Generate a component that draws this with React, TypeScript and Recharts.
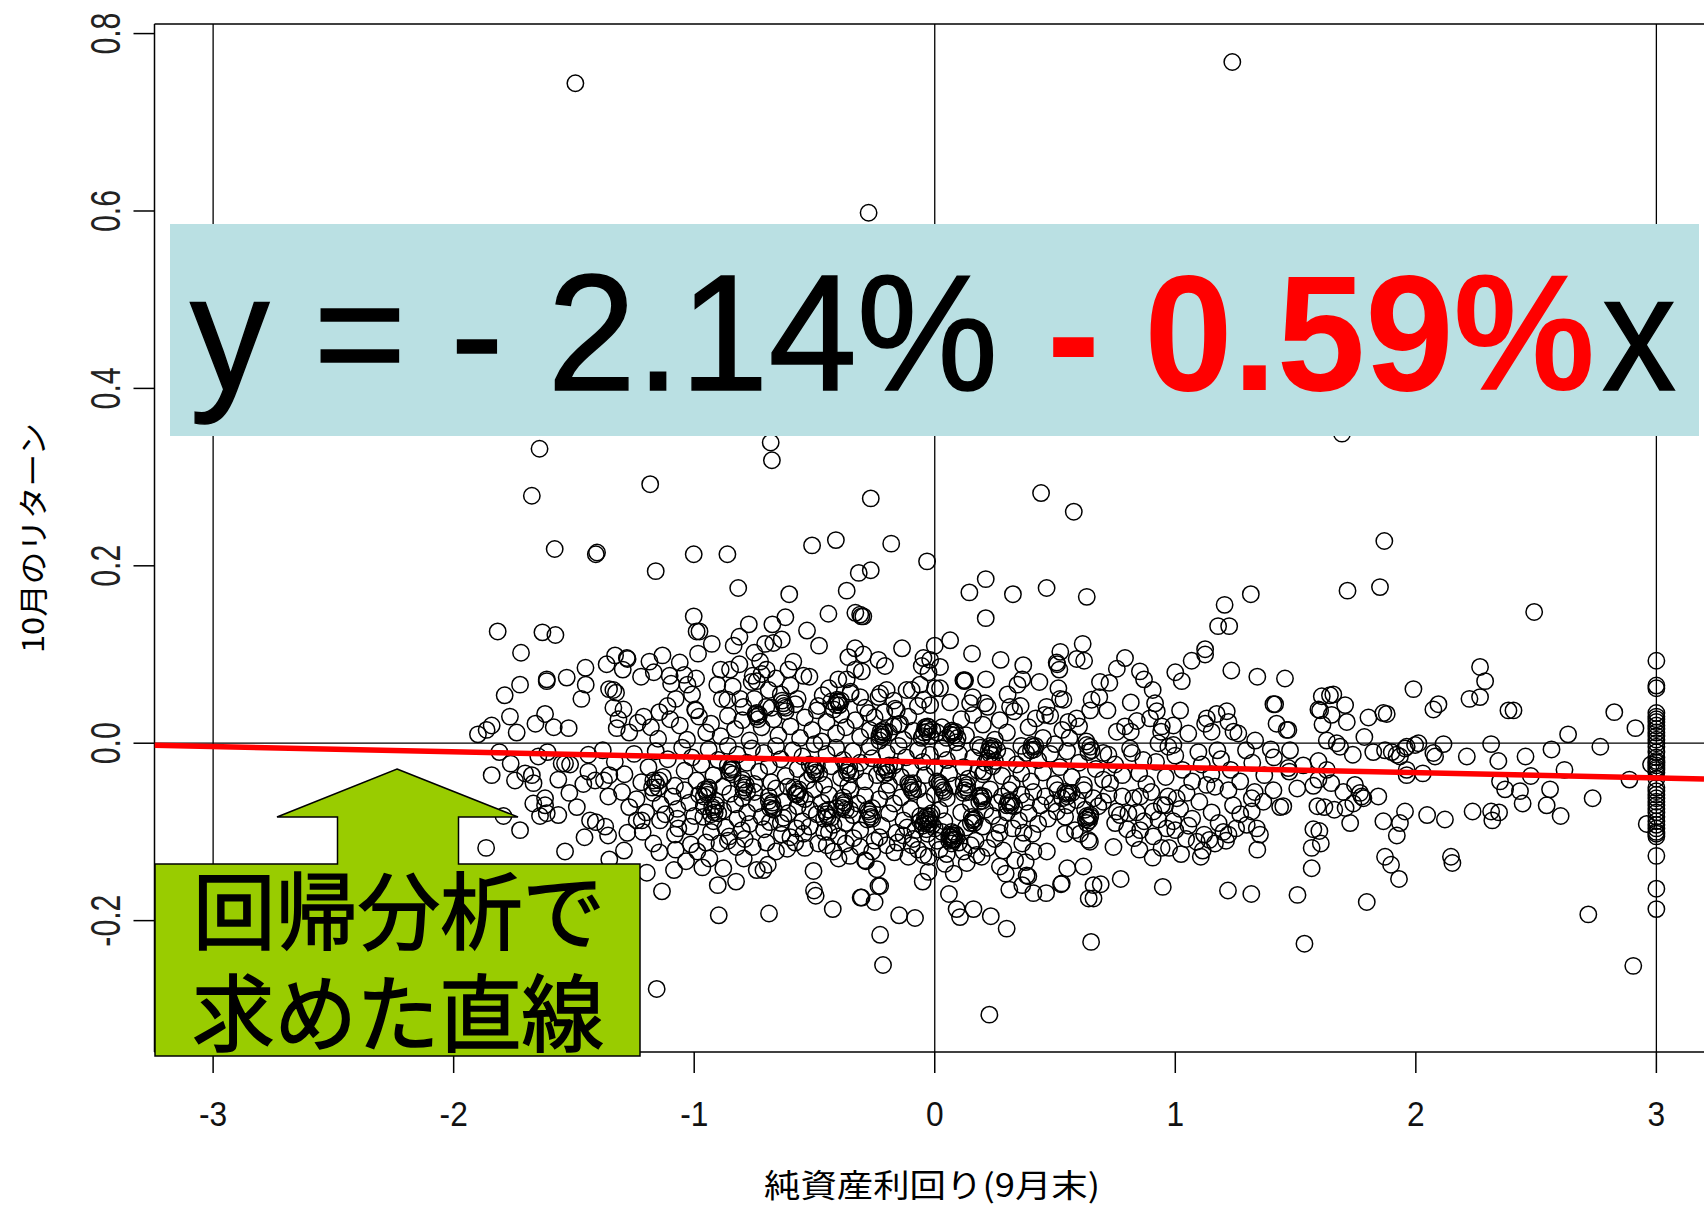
import { ReferenceLine, Scatter, ScatterChart, XAxis, YAxis } from "recharts";

type Pair = [number, number];

const xDomain = [-3.2437, 3.198];
const yDomain = [-0.3481, 0.8108];
const xTicks = [-3, -2, -1, 0, 1, 2, 3];
const yTicks = [-0.2, 0, 0.2, 0.4, 0.6, 0.8];
const guideX = [-3, 0, 3];

// regression line: y = -2.14% - 0.59% x, read at both plot edges
const fitLine: Pair[] = [[-3.2437, -0.0023], [3.198, -0.0403]];

const outliers: Pair[] = [
  [-1.494,.744],[1.237,.768],[-.275,.598],[1.693,.349],[-1.643,.332],[-.682,.339],[-.677,.319],[-1.675,.279],[-1.183,.292],[-.266,.276],[.442,.282],[.578,.261],
  [-1.58,.219],[-1.409,.213],[-1.404,.215],[-1.16,.194],[-1.002,.213],[-.862,.213],[-.817,.175],[-.51,.223],[-.411,.229],[-.181,.225],[-.032,.205],[-.316,.192],[-.266,.195],
  [-.366,.172],[-.605,.168],[.144,.17],[.212,.185],[.325,.168],[.212,.141],[.465,.175],[.632,.165],[1.205,.156],[1.314,.168],[1.716,.172],[1.851,.176],[1.869,.228],[2.492,.148],
  [1.178,.132],[1.224,.132],[-.227,-.216],[-.215,-.25],[.227,-.306],[.65,-.224],[-1.156,-.277],[1.537,-.226],[2.904,-.251],[2.717,-.193],[1.796,-.179],
];

const upperLeft: Pair[] = [
  [-1.817,.126],[-1.631,.125],[-1.577,.122],[-1.72,.102],[-1.613,.072],[-1.613,.07],[-1.53,.074],[-1.452,.085],[-1.451,.066],[-1.469,.05],[-1.724,.066],[-1.788,.054],
  [-1.766,.03],[-1.842,.02],[-1.66,.022],[-1.62,.033],[-1.584,.018],[-1.522,.017],[-1.738,.012],[-1.863,.015],[-1.899,.01],[-1.329,.099],[-1.364,.089],[-1.28,.096],[-1.277,.095],
  [-1.297,.083],[-1.186,.092],[-1.132,.099],[-1.168,.08],[-1.221,.075],[-1.06,.091],[-1.102,.076],[-1.096,.067],[-1.041,.077],[-.992,.073],[-1.028,.066],[-1.009,.055],[-1.077,.05],
  [-.994,.037],[-.996,.038],[-1.354,.061],[-1.336,.06],[-1.325,.057],[-1.336,.04],[-1.294,.038],[-1.315,.027],[-1.322,.017],[-1.235,.023],[-1.145,.035],[-1.111,.042],[-1.002,.143],
  [-.99,.126],[-.978,.126],[-.927,.112],[-.984,.101],[-.442,.146],[-.531,.127],[-.621,.142],[-.675,.134],[-.773,.134],[-.812,.12],[-.836,.11],[-.636,.117],[-.705,.112],[-.671,.113],
  [-.481,.11],[-.33,.147],[-.305,.143],[-.331,.107],[-.359,.097],[-.75,.102],[-.89,.083],[-.851,.083],[-.812,.089],[-.904,.066],[-.84,.064],[-.885,.05],[-.862,.049],[-.795,.041],
  [-.809,.05],[-.761,.069],[-.726,.092],[-.699,.083],[-.588,.092],[-.608,.083],[-.546,.076],[-.521,.075],[-.401,.072],[-.366,.072],[-.331,.083],[-.303,.081],[-.297,.1],[-.466,.054],
  [-.484,.042],[-.401,.047],[-.757,.076],[-.74,.07],[-.72,.078],[-.69,.06],[-.66,.073],[-.64,.055],[-.6,.065],[-.57,.05],[-.44,.062],[-.42,.038],[-.35,.058],[-.75,.05],[-.68,.04],
];

const upperRight: Pair[] = [
  [-.136,.107],[.064,.116],[0,.11],[.155,.101],[.274,.094],[.213,.072],[.119,.071],[.126,.071],[.123,.07],[.368,.088],[.364,.072],[.435,.069],[.344,.066],[.303,.055],[.357,.042],[.313,.041],
  [.522,.103],[.615,.112],[.59,.095],[.621,.093],[.507,.091],[.518,.083],[.509,.089],[.791,.096],[.757,.084],[.687,.069],[.726,.068],[.853,.081],[.87,.072],[.906,.06],[1,.08],[1.027,.07],
  [1.068,.093],[1.124,.106],[1.124,.1],[1.233,.082],[1.341,.075],[1.415,.044],[1.408,.044],[1.421,.022],[.514,.062],[.521,.05],[.535,.049],[.652,.049],[.684,.052],[.815,.046],[.916,.045],
  [.923,.036],[1.02,.037],[.646,.037],[.718,.037],[.465,.041],[.458,.032],[.59,.028],[.555,.024],[.84,.025],[.791,.019],[.815,.013],[.757,.013],[.895,.028],[.944,.019],[.941,.013],[.992,.02],
  [1.054,.011],[1.131,.028],[1.172,.033],[1.214,.036],[1.221,.024],[1.124,.022],[1.151,.013],[1.262,.011],[1.242,.013],[1.332,.003],[-.234,.094],[-.207,.087],[-.297,.143],[-.31,.145],
  [-.047,.096],[-.019,.094],[-.054,.087],[-.026,.08],[.022,.086],[-.117,.06],[-.096,.06],[-.061,.066],[.001,.062],[.022,.062],[-.019,.043],[-.047,.049],[.064,.046],[.147,.045],[.158,.052],
  [.209,.045],[-.158,.037],[-.165,.039],[-.2,.06],[-.234,.052],[-.227,.056],[-.31,.052],[-.276,.034],[-.214,.015],[-.172,.019],[-.144,.022],
];

const lowerLeft: Pair[] = [
  [-1.842,-.036],[-1.81,-.01],[-1.763,-.023],[-1.745,-.042],[-1.703,-.034],[-1.675,-.036],[-1.668,-.045],[-1.648,-.015],[-1.61,-.01],[-1.565,-.041],[-1.551,-.023],[-1.537,-.023],[-1.516,-.024],
  [-1.519,-.056],[-1.44,-.013],[-1.461,-.046],[-1.44,-.032],[-1.412,-.042],[-1.375,-.042],[-1.353,-.036],[-1.357,-.06],[-1.669,-.068],[-1.62,-.062],[-1.62,-.07],[-1.641,-.082],[-1.613,-.079],
  [-1.565,-.081],[-1.488,-.072],[-1.793,-.082],[-1.724,-.098],[-1.865,-.118],[-1.537,-.122],[-1.456,-.106],[-1.433,-.087],[-1.409,-.089],[-1.37,-.094],[-1.358,-.104],[-1.278,-.101],[-1.292,-.121],
  [-1.353,-.131],[-1.214,-.1],[-1.239,-.087],[-1.218,-.087],[-1.17,-.113],[-1.145,-.123],[-1.077,-.12],[-1.084,-.143],[-1.197,-.146],[-1.134,-.167],[-1.034,-.133],[-.966,-.14],[-.937,-.13],
  [-.987,-.122],[-1.014,-.114],[-.951,-.112],[-.895,-.113],[-.879,-.141],[-.902,-.16],[-.826,-.156],[-.898,-.194],[-.689,-.192],[-.794,-.13],[-.757,-.117],[-.823,-.117],[-.854,-.105],[-.74,-.143],
  [-.712,-.143],[-.694,-.137],[-.613,-.119],[-.636,-.103],[-.504,-.144],[-.502,-.166],[-.495,-.172],[-.424,-.187],[-.308,-.174],[-.484,-.113],[-.449,-.115],[-.421,-.122],[-.352,-.127],[-.29,-.132],
  [-.338,-.107],[-.574,-.096],[-.546,-.102],[-1.142,-.087],[-1.07,-.085],[-1.066,-.096],[-1.017,-.094],[-.962,-.083],[-.9,-.079],[-.802,-.098],[-.685,-.089],[-.629,-.084],[-.518,-.075],[-.421,-.092],[-.352,-.075],
];

const lowerMiddle: Pair[] = [
  [-.148,-.194],[-.082,-.197],[-.25,-.179],[-.234,-.161],[-.227,-.161],[-.304,-.174],[-.241,-.142],[-.286,-.133],[-.05,-.156],[-.026,-.145],[.059,-.17],[.091,-.187],[.105,-.196],[.161,-.187],[.233,-.195],
  [.299,-.209],[.079,-.147],[.043,-.136],[.133,-.135],[.195,-.128],[.174,-.126],[-.026,-.128],[-.047,-.126],[-.168,-.123],[-.154,-.112],[-.096,-.115],[.31,-.165],[.364,-.16],[.389,-.15],[.382,-.149],
  [.41,-.169],[.463,-.169],[.528,-.158],[.525,-.159],[.551,-.141],[.618,-.139],[.64,-.175],[.66,-.175],[.66,-.16],[.69,-.159],[.773,-.153],[.948,-.162],[1.219,-.166],[1.316,-.17],[1.341,-.12],[.743,-.117],
  [.271,-.139],[.295,-.147],[.334,-.132],[.378,-.134],[.285,-.121],[.466,-.122],[.41,-.122],[.364,-.113],[.406,-.102],[.369,-.101],[.269,-.101],[.324,-.096],[.542,-.102],[.47,-.085],[.507,-.077],[.542,-.083],
  [.645,-.111],[.639,-.109],[.604,-.102],[.583,-.098],[.632,-.09],[.646,-.083],[.625,-.075],[.851,-.12],[.829,-.107],[.906,-.129],[.974,-.118],[.943,-.118],[1.024,-.125],[1.106,-.128],[1.114,-.121],[1.045,-.108],
  [1.089,-.111],[1.12,-.103],[1.165,-.113],[1.142,-.109],[1.211,-.11],[1.2,-.1],[1.221,-.103],[1.253,-.096],[1.297,-.092],[1.339,-.096],[1.352,-.103],[1.151,-.078],[1.055,-.093],[.992,-.088],[.964,-.096],
  [.909,-.105],[.854,-.098],[.805,-.079],[.854,-.06],[.826,-.062],[.757,-.077],[.77,-.081],[.722,-.058],[.729,-.045],[.909,-.077],[.944,-.07],[.958,-.07],[1.006,-.062],[1.047,-.056],[1.221,-.053],[1.13,-.047],
  [1.165,-.049],[1.318,-.062],[1.318,-.077],[1.366,-.066],[1.408,-.053],[1.436,-.072],[1.294,-.008],[1.397,-.007],[1.175,-.008],[1.096,-.01],[.971,-.004],[.992,-.002],[.93,0],[.867,-.019],[.812,-.006],[.722,-.013],
  [.701,-.011],[.646,-.004],[.639,-.01],[.632,-.002],[.652,-.008],
];

const rightSide: Pair[] = [
  [2.825,.035],[2.913,.017],[2.633,.01],[2.767,-.004],[2.564,-.007],[2.456,-.015],[2.343,-.02],[2.313,-.001],[2.212,-.015],[2.115,-.001],[2.011,0],[1.997,-.002],[1.99,.061],[2.094,.044],[2.073,.038],[2.267,.086],
  [2.288,.07],[2.267,.052],[2.223,.05],[2.385,.037],[2.406,.037],[1.456,.073],[1.609,.053],[1.643,.054],[1.657,.055],[1.595,.038],[1.602,.037],[1.65,.032],[1.706,.043],[1.713,.024],[1.612,.021],[1.803,.029],
  [1.865,.034],[1.879,.033],[1.786,.007],[1.63,.003],[1.671,0],[1.685,-.004],[1.738,-.013],[1.823,-.01],[1.872,-.008],[1.9,-.01],[1.92,-.013],[1.934,-.015],[1.955,-.006],[1.962,-.004],[2.073,-.011],[2.08,-.015],
  [1.962,-.03],[1.962,-.036],[2.029,-.034],[1.463,.015],[1.47,.015],[1.477,-.008],[1.532,-.025],[1.595,-.02],[1.63,-.03],[1.47,-.028],[1.474,-.032],[1.507,-.051],[1.574,-.048],[1.595,-.041],[1.648,-.045],[1.699,-.055],
  [1.747,-.047],[1.768,-.056],[1.844,-.06],[2.35,-.043],[2.371,-.052],[2.478,-.037],[2.433,-.054],[2.618,-.03],[2.558,-.052],[2.888,-.041],[2.735,-.062],[2.978,-.024],[2.544,-.07],[2.602,-.082],[2.444,-.068],
  [2.346,-.078],[2.313,-.077],[2.318,-.087],[2.236,-.077],[2.121,-.086],[2.047,-.081],[1.955,-.077],[1.934,-.09],[1.865,-.088],[1.921,-.104],[1.872,-.128],[1.897,-.137],[1.93,-.153],[2.146,-.128],[2.152,-.135],
  [1.508,-.171],[1.567,-.141],[1.567,-.118],[1.605,-.113],[1.574,-.097],[1.599,-.099],[1.727,-.09],[1.74,-.068],[1.775,-.06],[1.782,-.062],[1.591,-.071],[1.62,-.072],[1.661,-.075],[1.708,-.073],[1.449,-.071],[2.96,-.091],
];

const capValues = [
  .093,.065,.062,.034,.03,.027,.024,.02,.016,.012,.008,.004,0,-.004,-.01,-.016,-.02,-.022,-.025,-.028,-.03,-.033,-.04,-.05,-.054,-.058,-.062,-.066,-.07,-.074,-.078,-.083,-.088,-.092,-.096,-.1,-.102,-.105,-.127,-.164,-.187,
];

const corePoints: Pair[] = [
  [-1.27,.012],[-1.21,.03],[-1.18,.018],[-1.15,.005],[-1.1,.027],[-1.06,.02],[-1.03,.004],[-.98,.03],[-.95,.012],[-.93,.022],[-.89,.008],[-.86,.031],[-.83,.016],[-.8,.026],[-.77,.003],[-.74,.034],[-.72,.018],[-.7,.041],
  [-.67,.027],[-.65,.009],[-.62,.036],[-.6,.019],[-.58,.044],[-.56,.006],[-.54,.029],[-.51,.015],[-.49,.037],[-.47,.002],[-.45,.024],[-.43,.047],[-.41,.011],[-.39,.032],[-.37,.018],[-.35,.056],[-.33,.026],[-.31,.007],
  [-.29,.04],[-.27,.015],[-.25,.029],[-.23,.003],[-.21,.035],[-.19,.012],[-.17,.048],[-.15,.021],[-.13,.004],[-.11,.03],[-.09,.014],[-.07,.042],[-.05,.008],[-.03,.019],[-.01,.015],[.01,.012],[.03,.018],[.05,.006],[.07,.014],
  [.09,.001],[.11,.027],[.13,.009],[.16,.032],[.18,-.002],[.2,.021],[.22,.041],[.25,.004],[.27,.026],[.3,.012],[.33,.036],[.36,-.003],[.39,.018],[.42,.028],[.45,.006],[.48,.031],[.5,-.001],[.53,.015],[.56,.006],[.6,.019],[.63,.002],
  [-1.38,-.008],[-1.33,-.021],[-1.29,-.035],[-1.25,-.012],[-1.22,-.044],[-1.19,-.027],[-1.16,-.009],[-1.13,-.038],[-1.11,-.018],[-1.08,-.048],[-1.05,-.005],[-1.04,-.031],[-1.01,-.016],[-.99,-.042],[-.97,-.024],[-.94,-.007],
  [-.92,-.036],[-.9,-.019],[-.88,-.049],[-.86,-.003],[-.84,-.029],[-.82,-.013],[-.8,-.041],[-.78,-.022],[-.76,-.006],[-.75,-.046],[-.73,-.032],[-.71,-.011],[-.69,-.026],[-.68,-.044],[-.66,-.003],[-.64,-.018],[-.62,-.037],[-.61,-.049],
  [-.59,-.008],[-.57,-.029],[-.55,-.015],[-.53,-.042],[-.52,-.024],[-.5,-.001],[-.48,-.034],[-.46,-.047],[-.45,-.012],[-.43,-.026],[-.41,-.005],[-.39,-.039],[-.38,-.019],[-.36,-.048],[-.34,-.009],[-.33,-.031],[-.31,-.022],[-.29,-.043],
  [-.27,-.004],[-.26,-.017],[-.24,-.036],[-.22,-.027],[-.2,-.011],[-.19,-.047],[-.17,-.025],[-.15,-.003],[-.14,-.038],[-.12,-.016],[-.1,-.029],[-.09,-.045],[-.07,-.008],[-.05,-.021],[-.04,-.036],[-.02,-.013],[0,-.027],[.01,-.043],
  [.03,-.006],[.05,-.019],[.06,-.034],[.08,-.048],[.1,-.012],[.12,-.027],[.14,-.04],[.16,-.016],[.18,-.031],[.19,-.005],[.21,-.022],[.22,-.017],[.23,-.012],[.24,-.026],[.25,-.02],[.26,-.008],[.28,-.037],[.3,-.015],[.32,-.046],[.34,-.024],
  [.36,-.034],[.38,-.011],[.4,-.043],[.43,-.019],[.45,-.033],[.48,-.012],[.5,-.046],[.52,-.027],[.55,-.009],[.57,-.038],[.6,-.022],[.62,-.047],[.67,-.029],[.7,-.041],[.75,-.024],[.78,-.036],[.82,-.011],[.85,-.034],[.88,-.046],[.92,-.021],[.96,-.038],
  [1,-.014],[1.03,-.03],[1.07,-.043],[1.11,-.024],[1.15,-.035],[1.19,-.018],[1.23,-.03],[1.27,-.043],[1.32,-.022],[1.37,-.036],[1.41,-.016],
  [-1.3,-.055],[-1.27,-.072],[-1.24,-.063],[-1.2,-.078],[-1.17,-.056],[-1.14,-.069],[-1.12,-.08],[-1.09,-.06],[-1.07,-.074],[-1.04,-.053],[-1.02,-.067],[-1,-.082],[-.98,-.058],[-.96,-.071],[-.94,-.052],[-.92,-.088],[-.91,-.065],[-.88,-.076],
  [-.87,-.095],[-.85,-.057],[-.83,-.069],[-.82,-.085],[-.8,-.062],[-.78,-.078],[-.77,-.091],[-.75,-.055],[-.74,-.068],[-.72,-.083],[-.71,-.097],[-.69,-.06],[-.67,-.074],[-.66,-.051],[-.64,-.09],[-.63,-.066],[-.61,-.079],[-.6,-.106],
  [-.58,-.057],[-.57,-.071],[-.55,-.088],[-.54,-.063],[-.52,-.094],[-.5,-.052],[-.49,-.08],[-.47,-.067],[-.46,-.1],[-.44,-.058],[-.43,-.084],[-.41,-.073],[-.4,-.105],[-.38,-.061],[-.37,-.09],[-.35,-.053],[-.34,-.081],[-.32,-.068],
  [-.31,-.098],[-.29,-.059],[-.28,-.086],[-.26,-.073],[-.25,-.11],[-.23,-.063],[-.22,-.093],[-.2,-.054],[-.19,-.079],[-.17,-.068],[-.16,-.101],[-.14,-.061],[-.13,-.087],[-.115,-.095],[-.1,-.074],[-.09,-.108],[-.08,-.098],[-.07,-.052],
  [-.06,-.088],[-.05,-.093],[-.04,-.066],[-.035,-.097],[-.03,-.102],[-.02,-.082],[-.01,-.092],[0,-.058],[0,-.096],[.01,-.11],[.02,-.075],[.03,-.1],[.04,-.088],[.05,-.062],[.06,-.105],[.07,-.113],[.08,-.109],[.09,-.104],[.1,-.112],[.11,-.078],
  [.12,-.056],[.13,-.095],[.15,-.068],[.16,-.086],[.17,-.11],[.19,-.06],[.2,-.094],[.21,-.075],[.23,-.052],[.24,-.082],[.26,-.067],[.27,-.092],[.28,-.06],[.3,-.078],[.31,-.053],[.33,-.071],[.35,-.087],[.36,-.058],[.38,-.066],[.39,-.079],
  [.41,-.055],[.43,-.091],[.44,-.07],[.46,-.06],[.49,-.068],[.51,-.053],[.53,-.062],[.55,-.07],[.57,-.056],[.59,-.064],[.62,-.053],[.66,-.062],[.68,-.071],[.7,-.066],[.75,-.09],[.78,-.06],[.8,-.097],[.84,-.078],[.87,-.088],[.9,-.055],
  [.93,-.086],[.97,-.06],[1,-.098],[1.02,-.074],[1.07,-.085],[1.1,-.066],[1.18,-.09],[1.24,-.07],[1.27,-.08],[1.33,-.055],
  [-1.08,-.103],[-.93,-.1],[-.86,-.11],[-.79,-.108],[-.7,-.112],[-.66,-.122],[-.58,-.112],[-.54,-.118],[-.44,-.1],[-.4,-.13],[-.37,-.113],[-.31,-.117],[-.26,-.122],[-.23,-.106],[-.2,-.115],[-.13,-.104],[-.11,-.128],[-.07,-.12],[.02,-.12],[.05,-.125],
  [.12,-.122],[.15,-.115],[.22,-.118],[.25,-.108],
];

// tight knots where the rings pile up into near-solid black
const knots: Pair[] = [
  [.068,-.106],[.072,-.109],[.076,-.104],[.064,-.103],[.08,-.108],[.07,-.1],[.06,-.11],[.084,-.102],[-.036,-.088],[-.03,-.091],[-.041,-.085],[-.025,-.086],[-.033,-.082],[-.046,-.09],[-.02,-.09],[-.06,-.082],[-.013,-.079],
  [.158,-.087],[.163,-.09],[.154,-.083],[.168,-.085],[.15,-.09],[.193,-.062],[.198,-.065],[.189,-.059],[.203,-.06],[.185,-.066],[.31,-.067],[.315,-.07],[.306,-.065],[.32,-.066],[.3,-.07],[.547,-.057],[.552,-.06],[.543,-.055],[.556,-.056],
  [.636,-.084],[.642,-.087],[.632,-.082],[.647,-.081],[.628,-.086],[.074,.012],[.08,.009],[.07,.014],[.085,.013],[.065,.01],[.095,.006],[-.035,.016],[-.03,.013],[-.04,.018],[-.025,.018],[-.045,.012],[-.018,.008],[-.055,.006],
  [.234,-.006],[.24,-.008],[.23,-.003],[.245,-.004],[.225,-.008],[.408,-.004],[.413,-.007],[.404,-.002],[.418,-.003],[.4,-.008],[-.4,.046],[-.396,.043],[-.405,.049],[-.39,.048],[-.41,.043],[-.74,.03],[-.735,.027],[-.745,.033],[-.73,.032],
  [-.63,.045],[-.626,.042],[-.635,.048],[-.62,.04],[-1.16,-.045],[-1.15,-.05],[-1.17,-.042],[-1.145,-.042],[-1.175,-.05],[-.95,-.055],[-.945,-.058],[-.955,-.052],[-.94,-.05],[-.96,-.06],[-.79,-.05],[-.785,-.047],[-.795,-.053],[-.78,-.055],
  [-.8,-.045],[-.57,-.055],[-.565,-.052],[-.575,-.058],[-.56,-.06],[-.585,-.05],[-.36,-.03],[-.355,-.027],[-.365,-.033],[-.35,-.035],[-.37,-.025],[-.2,-.03],[-.195,-.033],[-.205,-.027],[-.19,-.025],[-.21,-.035],[-.38,-.07],[-.375,-.067],
  [-.385,-.073],[-.37,-.075],[-.39,-.065],[-.27,-.08],[-.265,-.083],[-.275,-.077],[-.26,-.085],[-.28,-.075],[-.1,-.05],[-.095,-.053],[-.105,-.047],[-.09,-.055],[-.11,-.045],[.03,-.05],[.035,-.053],[.025,-.047],[.04,-.055],[.02,-.045],
  [-.68,-.07],[-.675,-.067],[-.685,-.073],[-.67,-.075],[-.69,-.065],[-.5,-.03],[-.495,-.033],[-.505,-.027],[-.49,-.025],[-.51,-.035],[-.85,-.03],[-.845,-.027],[-.855,-.033],[-.84,-.035],[-.86,-.025],[-.22,.01],[-.215,.007],[-.225,.013],
  [-.21,.012],[-.23,.008],[-.92,-.075],[-.915,-.078],[-.925,-.072],[-.91,-.07],[-.93,-.08],[-.45,-.08],[-.445,-.083],[-.455,-.077],[-.44,-.075],[-.46,-.085],[.13,-.05],[.135,-.047],[.125,-.053],[.14,-.055],[.12,-.045],[.2,-.035],[.205,-.032],
];

const allPoints: Pair[] = [
  ...outliers, ...upperLeft, ...upperRight, ...lowerLeft, ...lowerMiddle, ...rightSide, ...corePoints, ...knots,
  ...capValues.map((v): Pair => [3, v]),
];

const scatterData = allPoints.map(([x, y]) => ({ x, y }));
const fitData = fitLine.map(([x, y]) => ({ x, y }));

const textFont = "'Liberation Sans', Arial, sans-serif";
const cjkFont = "'Noto Sans CJK JP', sans-serif";

function OpenCircle(props: any) {
  return <circle cx={props.cx} cy={props.cy} r={8.2} fill="none" stroke="#000" strokeWidth={1.5} />;
}

function XTick({ x, payload }: any) {
  return (
    <text transform={`translate(${x},1126) scale(0.88,1)`} textAnchor="middle" fontFamily={textFont} fontSize={36} fill="#111">
      {String(payload.value)}
    </text>
  );
}

function YTick({ y, payload }: any) {
  return (
    <text transform={`translate(119.5,${y}) rotate(-90) scale(0.72,1)`} textAnchor="middle" fontFamily={textFont} fontSize={42} fill="#222">
      {payload.value.toFixed(1)}
    </text>
  );
}

function Annotations() {
  return (
    <svg width={1704} height={1205} style={{ position: "absolute", left: 0, top: 0 }}>
      <rect x={170} y={224} width={1529} height={212} fill="#bae0e3" />
      <text x={190} y={390} fontFamily={textFont} fontSize={165} textLength={808} lengthAdjust="spacingAndGlyphs" fill="#000" stroke="#000" strokeWidth={1.5}>
        y = - 2.14%
      </text>
      <text x={1047} y={390} fontFamily={textFont} fontWeight="bold" fontSize={165} textLength={548} lengthAdjust="spacingAndGlyphs" fill="#f00">
        - 0.59%
      </text>
      <text x={1602} y={390} fontFamily={textFont} fontSize={165} textLength={74} lengthAdjust="spacingAndGlyphs" fill="#000" stroke="#000" strokeWidth={1.5}>
        x
      </text>
      <path
        d="M397 769 L518 817 L458.5 817 L458.5 864 L640 864 L640 1056 L155 1056 L155 864 L337.5 864 L337.5 817 L277 817 Z"
        fill="#99cc00"
        stroke="#000"
        strokeWidth={1.5}
      />
      <text x={193} y={943} fontFamily={cjkFont} fontSize={84} textLength={412} lengthAdjust="spacingAndGlyphs" fill="#000" stroke="#000" strokeWidth={1.6}>
        回帰分析で
      </text>
      <text x={192} y={1045} fontFamily={cjkFont} fontSize={84} textLength={412} lengthAdjust="spacingAndGlyphs" fill="#000" stroke="#000" strokeWidth={1.6}>
        求めた直線
      </text>
      <text x={932} y={1197} textAnchor="middle" fontFamily={cjkFont} fontSize={32} textLength={336} lengthAdjust="spacingAndGlyphs" fill="#000">
        純資産利回り(9月末)
      </text>
      <text transform="translate(44,538) rotate(-90)" textAnchor="middle" fontFamily={cjkFont} fontSize={30} textLength={230} lengthAdjust="spacingAndGlyphs" fill="#000">
        10月のリターン
      </text>
    </svg>
  );
}

export default function App() {
  return (
    <div style={{ position: "absolute", left: 0, top: 0, width: 1704, height: 1205, background: "#fff", overflow: "hidden" }}>
      <ScatterChart width={1704} height={1205} margin={{ top: 24, right: 0, bottom: 0, left: 0 }}>
        <XAxis
          type="number"
          dataKey="x"
          domain={xDomain}
          ticks={xTicks}
          interval={0}
          allowDataOverflow
          height={153}
          stroke="#000"
          strokeWidth={1.5}
          tickSize={21}
          tick={<XTick />}
        />
        <YAxis
          type="number"
          dataKey="y"
          domain={yDomain}
          ticks={yTicks}
          interval={0}
          allowDataOverflow
          width={154.5}
          stroke="#000"
          strokeWidth={1.5}
          tickSize={21}
          tick={<YTick />}
        />
        <ReferenceLine y={yDomain[1]} stroke="#000" strokeWidth={1.5} />
        <ReferenceLine y={0} stroke="#000" strokeWidth={1.3} />
        {guideX.map((v) => (
          <ReferenceLine key={v} x={v} stroke="#000" strokeWidth={1.3} />
        ))}
        <Scatter data={scatterData} shape={<OpenCircle />} isAnimationActive={false} />
        <Scatter data={fitData} line={{ stroke: "#ff0000", strokeWidth: 5.5 }} shape={() => null} isAnimationActive={false} />
      </ScatterChart>
      <Annotations />
    </div>
  );
}
